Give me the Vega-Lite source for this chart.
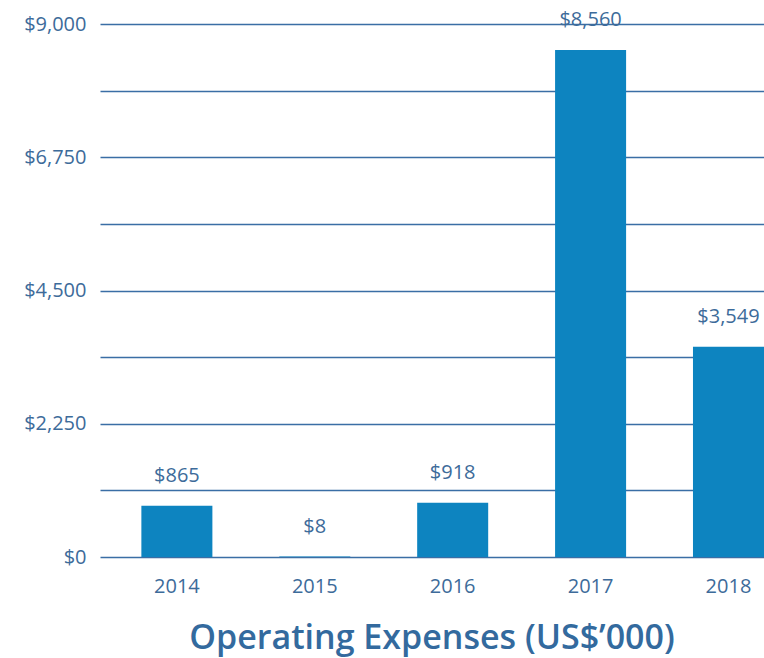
{
  "$schema": "https://vega.github.io/schema/vega-lite/v6.json",
  "autosize": "none",
  "width": 664,
  "height": 533,
  "padding": {"left": 100, "top": 24, "right": 0, "bottom": 101},
  "background": "white",
  "config": {
    "view": {"stroke": null},
    "font": "Open Sans"
  },
  "title": {
    "text": "Operating Expenses (US$’000)",
    "orient": "bottom",
    "anchor": "middle",
    "fontSize": 34,
    "fontWeight": 600,
    "color": "#336a9e",
    "offset": 26,
    "dx": 0
  },
  "data": {
    "values": [
      {"year": "2014", "value": 865},
      {"year": "2015", "value": 8},
      {"year": "2016", "value": 918},
      {"year": "2017", "value": 8560},
      {"year": "2018", "value": 3549}
    ]
  },
  "encoding": {
    "x": {
      "field": "year",
      "type": "ordinal",
      "sort": null,
      "scale": {"paddingInner": 0.485, "paddingOuter": 0.15, "align": 1},
      "axis": {
        "title": null,
        "labelAngle": 0,
        "ticks": false,
        "domain": false,
        "labelFontSize": 20,
        "labelColor": "#3d6b9a",
        "labelPadding": 19
      }
    },
    "y": {
      "field": "value",
      "type": "quantitative",
      "scale": {"domain": [0, 9000], "nice": false},
      "axis": {
        "title": null,
        "values": [0, 1125, 2250, 3375, 4500, 5625, 6750, 7875, 9000],
        "labelExpr": "datum.value % 2250 == 0 ? '$' + format(datum.value, ',') : ''",
        "ticks": false,
        "domain": false,
        "grid": true,
        "gridColor": "#3a6ea5",
        "gridWidth": 1.5,
        "gridOpacity": 1,
        "labelFontSize": 20,
        "labelColor": "#3d6b9a",
        "labelPadding": 14
      }
    }
  },
  "layer": [
    {
      "mark": {"type": "bar", "color": "#0d84c0"}
    },
    {
      "mark": {"type": "text", "fontSize": 20, "color": "#3d6b9a", "baseline": "middle", "dy": -30},
      "encoding": {
        "text": {"field": "value", "type": "quantitative", "format": "$,"}
      }
    }
  ]
}
